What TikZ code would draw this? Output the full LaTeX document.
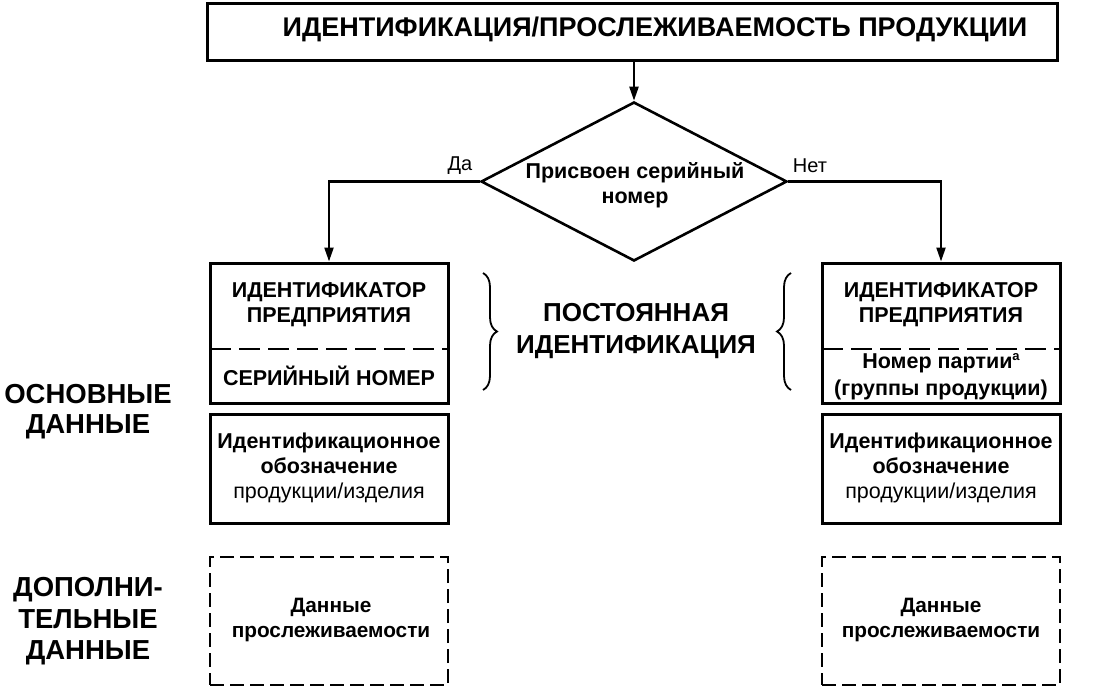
\documentclass[tikz,border=0pt]{standalone}
\usepackage{fontspec}
\setmainfont{Liberation Sans}
\usetikzlibrary{arrows.meta,decorations.pathreplacing,shapes.geometric}
\begin{document}
\begin{tikzpicture}[x=1pt,y=-1pt,
  box/.style={draw, line width=3pt, rectangle, inner sep=0pt},
  dbox/.style={draw, line width=2.4pt, rectangle, inner sep=0pt, dash pattern=on 14pt off 6pt},
  conn/.style={line width=2.2pt, -{Triangle[length=14pt,width=9pt]}},
  divider/.style={line width=2.6pt, dash pattern=on 21pt off 8pt},
  brc/.style={line width=1.8pt, decorate, decoration={brace, amplitude=14pt}},
  bt/.style={font=\fontsize{21.5}{25}\selectfont\bfseries, align=center, inner sep=0pt},
  big/.style={font=\fontsize{26}{32}\selectfont\bfseries, align=center, inner sep=0pt},
  side/.style={font=\fontsize{27.5}{30}\selectfont\bfseries, align=center, inner sep=0pt}
]
\useasboundingbox (0,0) rectangle (1102,688);
\fill[white] (0,0) rectangle (1102,688);

% title
\node[box, minimum width=850pt, minimum height=57pt] (title) at (632,31.5) {};
\node[font=\fontsize{27}{30}\selectfont\bfseries, inner sep=0pt] (titletxt) at (655,29.5) {ИДЕНТИФИКАЦИЯ/ПРОСЛЕЖИВАЕМОСТЬ ПРОДУКЦИИ};

% decision
\node[diamond, draw, line width=2.6pt, minimum width=306pt, minimum height=159pt, inner sep=0pt] (dec) at (634,181.5) {};
\node[bt] (dectxt) at (635,185.5) {Присвоен серийный\\номер};

% top boxes
\node[box, minimum width=238pt, minimum height=140pt] (lbox) at (329,333) {};
\node[box, minimum width=238pt, minimum height=140pt] (rbox) at (941,333) {};
\draw[divider] (210,349) -- (448,349);
\draw[divider] (822,349) -- (1060,349);
\node[bt] (lid) at (329,305) {ИДЕНТИФИКАТОР\\ПРЕДПРИЯТИЯ};
\node[bt] (lsn) at (329,376) {СЕРИЙНЫЙ НОМЕР};
\node[bt] (rid) at (941,305) {ИДЕНТИФИКАТОР\\ПРЕДПРИЯТИЯ};
\node[bt, font=\fontsize{21.5}{27}\selectfont\bfseries] (rlot) at (941,376.5) {Номер партии\raisebox{8pt}{\fontsize{13}{13}\selectfont a}\\(группы продукции)};

% second boxes
\node[box, minimum width=238pt, minimum height=109pt] (lprod) at (329,468.5) {};
\node[box, minimum width=238pt, minimum height=109pt] (rprod) at (941,468.5) {};
\node[bt] (lprodtxt) at (329,468) {Идентификационное\\обозначение\\{\mdseries продукции/изделия}};
\node[bt] (rprodtxt) at (941,468) {Идентификационное\\обозначение\\{\mdseries продукции/изделия}};

% dashed boxes
\node[dbox, minimum width=238pt, minimum height=128pt] (ltr) at (329,621) {};
\node[dbox, minimum width=238pt, minimum height=128pt] (rtr) at (941,621) {};
\node[bt, font=\fontsize{20.8}{24.5}\selectfont\bfseries] (ltrtxt) at (331,620) {Данные\\прослеживаемости};
\node[bt, font=\fontsize{20.8}{24.5}\selectfont\bfseries] (rtrtxt) at (941,620) {Данные\\прослеживаемости};

% connectors
\draw[conn] (title.south -| dec.north) -- (dec.north);
\draw[conn] (dec.west) -| (lbox.north);
\draw[conn] (dec.east) -| (rbox.north);
\node[font=\fontsize{20}{22}\selectfont, inner sep=0pt] (yes) at (460,166) {Да};
\node[font=\fontsize{20}{22}\selectfont, inner sep=0pt] (no) at (810,166) {Нет};

% braces
\draw[brc] (483,273) -- (483,390);
\draw[brc] (791,390) -- (791,273);
\node[big] (perm) at (636,331) {ПОСТОЯННАЯ\\ИДЕНТИФИКАЦИЯ};

% side labels
\node[side] (basic) at (88,412) {ОСНОВНЫЕ\\ДАННЫЕ};
\node[side, font=\fontsize{27.5}{31.5}\selectfont\bfseries] (extra) at (88,621.5) {ДОПОЛНИ-\\ТЕЛЬНЫЕ\\ДАННЫЕ};
\end{tikzpicture}
\end{document}
